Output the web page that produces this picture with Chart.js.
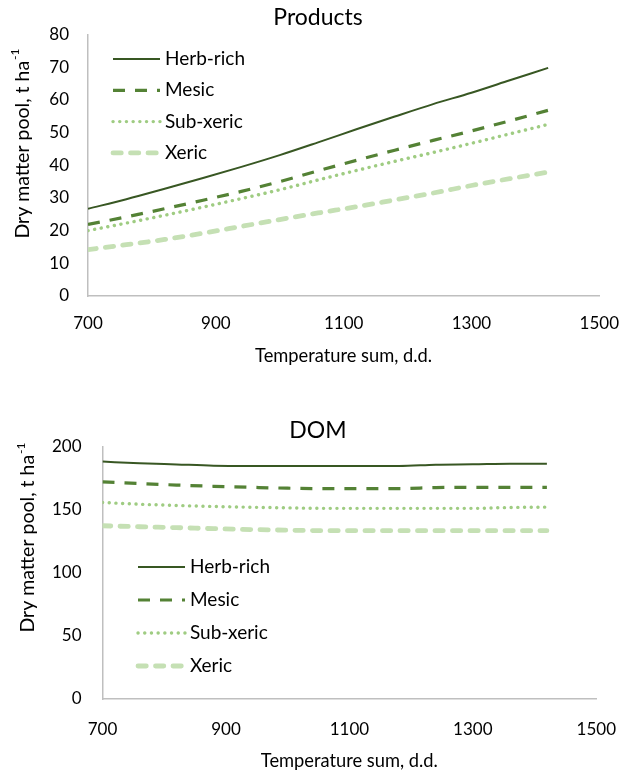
<!DOCTYPE html>
<html>
<head>
<meta charset="utf-8">
<script src="https://cdn.jsdelivr.net/npm/chart.js@4/dist/chart.umd.min.js"></script>
<style>
  html, body { margin: 0; padding: 0; background: #ffffff; }
  #wrap { position: relative; width: 636px; height: 774px; background: #ffffff; }
  canvas { position: absolute; left: 0; }
  #c1 { top: 0; }
  #c2 { top: 380px; }
</style>
</head>
<body>
<div id="wrap">
  <canvas id="c1" width="636" height="380"></canvas>
  <canvas id="c2" width="636" height="394"></canvas>
</div>
<script>
// ---------- DATA ----------
const temperatureSum = [700, 760, 820, 880, 940, 1000, 1060, 1120, 1180, 1240, 1300, 1360, 1420];
const seriesNames = ['Herb-rich', 'Mesic', 'Sub-xeric', 'Xeric'];
const xTickLabels = [700, 900, 1100, 1300, 1500];
const productsYTicks = [0, 10, 20, 30, 40, 50, 60, 70, 80];
const domYTicks = [0, 50, 100, 150, 200];

const productsHerbRich = [26.7, 29.6, 32.8, 36.1, 39.5, 43.1, 47.0, 51.0, 54.9, 58.7, 62.2, 66.0, 69.8];
const productsMesic    = [21.9, 24.2, 26.7, 29.3, 32.0, 35.0, 38.3, 41.5, 44.6, 47.6, 50.5, 53.6, 56.8];
const productsSubXeric = [20.0, 22.3, 24.7, 27.2, 29.8, 32.5, 35.5, 38.4, 41.2, 43.9, 46.7, 49.6, 52.5];
const productsXeric    = [14.2, 15.7, 17.3, 19.2, 21.3, 23.4, 25.4, 27.3, 29.4, 31.5, 33.8, 35.9, 37.9];

const domHerbRich = [188.4, 187.2, 186.2, 185.2, 185.0, 185.0, 185.0, 185.0, 185.0, 186.0, 186.3, 186.8, 186.8];
const domMesic    = [172.3, 171.0, 169.8, 168.8, 168.0, 167.3, 167.0, 167.0, 167.0, 167.8, 168.0, 168.0, 168.0];
const domSubXeric = [156.0, 154.6, 153.6, 152.8, 152.2, 151.7, 151.3, 151.3, 151.3, 151.3, 151.3, 152.0, 152.3];
const domXeric    = [137.5, 136.7, 136.0, 135.2, 134.5, 134.0, 133.6, 133.6, 133.6, 133.6, 133.6, 133.6, 133.6];

// ---------- STYLE ----------
const FONT = 'Lato, "Open Sans", "Liberation Sans", sans-serif';
const TEXT = '#000000';
const AXIS = '#bfbfbf';
const lineStyles = [
  { color: '#385723', width: 2,   dash: [],          cap: 'butt'  },
  { color: '#548235', width: 3.2, dash: [12, 10],    cap: 'butt'  },
  { color: '#9fcc82', width: 3.4, dash: [0.1, 6.6],  cap: 'round' },
  { color: '#c5e0b4', width: 4.8, dash: [8.3, 9.2],  cap: 'round' }
];

function toPoints(vals) {
  return temperatureSum.map((t, i) => ({ x: t, y: vals[i] }));
}

function makeDatasets(seriesList) {
  return seriesList.map((vals, i) => ({
    label: seriesNames[i],
    data: toPoints(vals),
    borderColor: lineStyles[i].color,
    backgroundColor: lineStyles[i].color,
    borderWidth: lineStyles[i].width,
    borderDash: lineStyles[i].dash,
    borderCapStyle: lineStyles[i].cap,
    pointRadius: 0,
    pointHoverRadius: 0,
    fill: false,
    cubicInterpolationMode: 'monotone'
  }));
}

// custom in-plot legend + y axis title with superscript
const decorPlugin = {
  id: 'decor',
  afterDraw(chart, args, opts) {
    const ctx = chart.ctx;
    const lg = opts.legend;
    chart.data.datasets.forEach((ds, i) => {
      const y = lg.y0 + i * lg.dy;
      const st = lineStyles[i];
      ctx.save();
      ctx.strokeStyle = st.color;
      ctx.lineWidth = st.width;
      ctx.lineCap = st.cap;
      ctx.setLineDash(st.dash);
      ctx.beginPath();
      ctx.moveTo(lg.x0, y);
      ctx.lineTo(lg.x1, y);
      ctx.stroke();
      ctx.restore();
      ctx.save();
      ctx.fillStyle = TEXT;
      ctx.font = '19px ' + FONT;
      ctx.textBaseline = 'middle';
      ctx.textAlign = 'left';
      ctx.fillText(ds.label, lg.tx, y);
      ctx.restore();
    });
    const yt = opts.yTitle;
    ctx.save();
    ctx.translate(yt.cx, yt.cy);
    ctx.rotate(-Math.PI / 2);
    ctx.fillStyle = TEXT;
    ctx.textBaseline = 'middle';
    ctx.textAlign = 'left';
    const mainFont = '19.5px ' + FONT;
    const supFont = '12px ' + FONT;
    ctx.font = mainFont;
    const w1 = ctx.measureText(yt.main).width;
    ctx.font = supFont;
    const w2 = ctx.measureText(yt.sup).width;
    const start = -(w1 + w2) / 2;
    ctx.font = mainFont;
    ctx.fillText(yt.main, start, 0);
    ctx.font = supFont;
    ctx.fillText(yt.sup, start + w1 + 1, -7);
    ctx.restore();
  }
};

function buildChart(canvasId, cfg) {
  const W = 636, H = cfg.height;
  return new Chart(document.getElementById(canvasId), {
    type: 'line',
    data: { datasets: makeDatasets(cfg.series) },
    plugins: [decorPlugin],
    options: {
      responsive: false,
      devicePixelRatio: 1,
      animation: false,
      events: [],
      layout: { padding: { left: 0, right: 0, top: 0, bottom: 0 } },
      plugins: {
        legend: { display: false },
        tooltip: { enabled: false },
        title: {
          display: true,
          text: cfg.title,
          color: TEXT,
          font: { family: FONT, size: 23, weight: 'normal', lineHeight: 1.2 },
          padding: { top: cfg.titlePad[0], bottom: cfg.titlePad[1] }
        },
        decor: { legend: cfg.legend, yTitle: cfg.yTitle }
      },
      scales: {
        x: {
          type: 'linear',
          min: xTickLabels[0],
          max: xTickLabels[xTickLabels.length - 1],
          afterBuildTicks: s => { s.ticks = xTickLabels.map(v => ({ value: v })); },
          ticks: {
            color: TEXT,
            font: { family: FONT, size: 17, lineHeight: 1.2 },
            padding: cfg.xTickPad,
            maxRotation: 0,
            autoSkip: false,
            callback: v => String(v)
          },
          grid: { display: false, drawTicks: false },
          border: { display: true, color: AXIS, width: 1.5 },
          title: {
            display: true,
            text: 'Temperature sum, d.d.',
            color: TEXT,
            font: { family: FONT, size: 18.3, lineHeight: 1.2 },
            padding: { top: 0, bottom: cfg.xTitlePad }
          },
          afterFit: s => { s.height = H - cfg.area.bottom; }
        },
        y: {
          type: 'linear',
          min: cfg.yTicks[0],
          max: cfg.yTicks[cfg.yTicks.length - 1],
          afterBuildTicks: s => { s.ticks = cfg.yTicks.map(v => ({ value: v })); },
          ticks: {
            color: TEXT,
            font: { family: FONT, size: 17, lineHeight: 1.2 },
            padding: cfg.yTickPad,
            callback: v => String(v)
          },
          grid: { display: false, drawTicks: false },
          border: { display: true, color: AXIS, width: 1.5 },
          afterFit: s => { s.width = cfg.area.left; }
        },
        spacer: {
          type: 'linear',
          position: 'right',
          display: true,
          ticks: { display: false },
          grid: { display: false, drawTicks: false },
          border: { display: false },
          afterFit: s => { s.width = W - cfg.area.right; }
        }
      }
    }
  });
}

buildChart('c1', {
  height: 380,
  title: 'Products',
  titlePad: [3.4, 3.5],
  area: { left: 88, right: 607, bottom: 296 },
  xTickPad: 17,
  xTitlePad: 12.5,
  yTickPad: 19,
  yTicks: productsYTicks,
  series: [productsHerbRich, productsMesic, productsSubXeric, productsXeric],
  legend: { x0: 113, x1: 160, tx: 165, y0: 59, dy: 31.3 },
  yTitle: { cx: 22.5, cy: 144, main: 'Dry matter pool, t ha', sup: '-1' }
});

buildChart('c2', {
  height: 394,
  title: 'DOM',
  titlePad: [36.4, 3.0],
  area: { left: 102.5, right: 616, bottom: 319 },
  xTickPad: 20,
  xTitlePad: 2,
  yTickPad: 21,
  yTicks: domYTicks,
  series: [domHerbRich, domMesic, domSubXeric, domXeric],
  legend: { x0: 138, x1: 185, tx: 190, y0: 187, dy: 33 },
  yTitle: { cx: 28, cy: 158, main: 'Dry matter pool, t ha', sup: '-1' }
});
</script>
</body>
</html>
